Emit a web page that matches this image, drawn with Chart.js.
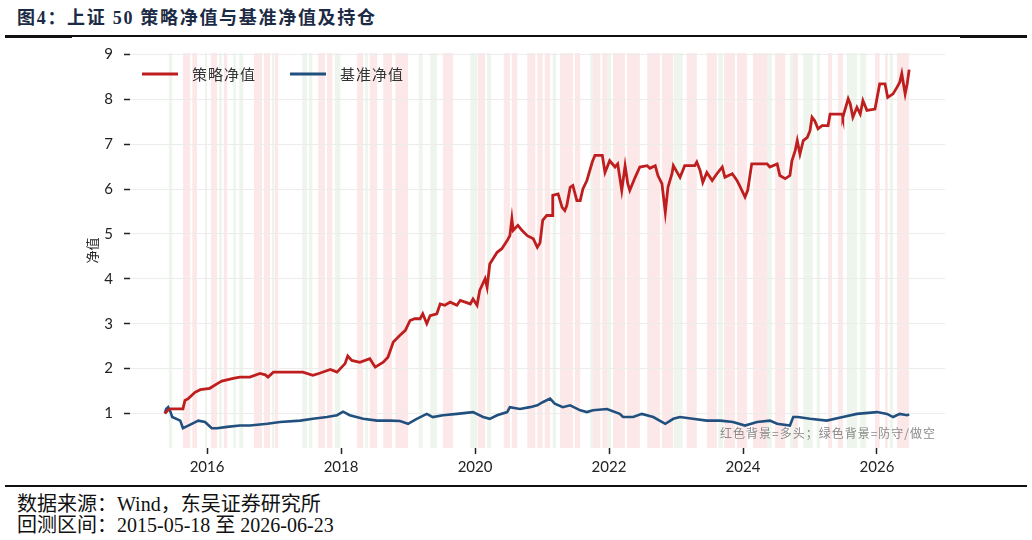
<!DOCTYPE html>
<html>
<head>
<meta charset="utf-8">
<script src="https://cdn.jsdelivr.net/npm/chart.js@4"></script>
<style>
  body { margin: 0; width: 1032px; height: 540px; background: #fff; position: relative; overflow: hidden; }
  .title { position: absolute; left: 17px; top: 3px; font: bold 18px "Liberation Serif", "Noto Sans CJK SC"; color: #1c2b45; letter-spacing: 1.7px; }
  .rule { position: absolute; background: #111; }
  .foot { position: absolute; left: 17px; font: 20px "Liberation Serif", "Noto Sans CJK SC"; color: #111; }
  #wrap { position: absolute; left: 0; top: 33px; width: 1032px; height: 452px; }
</style>
</head>
<body>
<div class="title">图4：上证 50 策略净值与基准净值及持仓</div>
<div class="rule" style="left:5px;top:35px;width:1022px;height:1.5px"></div>
<div class="rule" style="left:5px;top:35px;width:67px;height:3px"></div>
<div class="rule" style="left:960px;top:35px;width:67px;height:3px"></div>
<div id="wrap"><canvas id="chartNav" width="1032" height="452"></canvas></div>
<div class="rule" style="left:5px;top:485px;width:1022px;height:2px"></div>
<div class="foot" style="top:488px">数据来源：Wind，东吴证券研究所</div>
<div class="foot" style="top:509px">回测区间：2015-05-18 至 2026-06-23</div>
<script>
// 策略净值 (x = 年份小数)
var stratX = [2015.37, 2015.42, 2015.46, 2015.64, 2015.67, 2015.72, 2015.82, 2015.90, 2016.04, 2016.16,
  2016.22, 2016.39, 2016.49, 2016.64, 2016.79, 2016.87, 2016.91, 2016.99, 2017.19, 2017.43,
  2017.58, 2017.69, 2017.84, 2017.94, 2018.06, 2018.10, 2018.16, 2018.28, 2018.43, 2018.51,
  2018.63, 2018.70, 2018.78, 2018.88, 2018.96, 2019.03, 2019.10, 2019.18, 2019.22, 2019.28,
  2019.33, 2019.43, 2019.48, 2019.55, 2019.63, 2019.73, 2019.78, 2019.93, 2019.97, 2020.03,
  2020.07, 2020.15, 2020.18, 2020.22, 2020.33, 2020.40, 2020.48, 2020.52, 2020.55, 2020.57,
  2020.64, 2020.70, 2020.78, 2020.87, 2020.93, 2020.97, 2021.01, 2021.07, 2021.15, 2021.16,
  2021.24, 2021.30, 2021.34, 2021.37, 2021.42, 2021.46, 2021.52, 2021.57, 2021.61, 2021.67,
  2021.75, 2021.79, 2021.90, 2021.94, 2022.01, 2022.09, 2022.13, 2022.19, 2022.24, 2022.28,
  2022.31, 2022.39, 2022.46, 2022.57, 2022.61, 2022.69, 2022.73, 2022.79, 2022.84, 2022.88,
  2022.94, 2022.96, 2023.06, 2023.13, 2023.28, 2023.31, 2023.36, 2023.40, 2023.46, 2023.54,
  2023.61, 2023.69, 2023.73, 2023.84, 2023.91, 2023.96, 2024.03, 2024.07, 2024.13, 2024.36,
  2024.40, 2024.51, 2024.55, 2024.63, 2024.70, 2024.73, 2024.78, 2024.81, 2024.85, 2024.90,
  2024.96, 2025.00, 2025.03, 2025.07, 2025.12, 2025.18, 2025.27, 2025.30, 2025.48, 2025.49,
  2025.57, 2025.60, 2025.64, 2025.70, 2025.75, 2025.79, 2025.85, 2025.97, 2026.04, 2026.12,
  2026.16, 2026.24, 2026.30, 2026.34, 2026.37, 2026.42, 2026.45, 2026.48];
var stratY = [1.00, 1.08, 1.10, 1.10, 1.29, 1.33, 1.47, 1.53, 1.56, 1.67,
  1.72, 1.78, 1.81, 1.81, 1.89, 1.86, 1.81, 1.92, 1.92, 1.92,
  1.85, 1.90, 1.98, 1.92, 2.11, 2.28, 2.18, 2.14, 2.22, 2.03,
  2.14, 2.25, 2.59, 2.74, 2.85, 3.07, 3.11, 3.11, 3.22, 3.00,
  3.18, 3.22, 3.44, 3.41, 3.48, 3.41, 3.52, 3.44, 3.55, 3.41,
  3.74, 4.00, 3.81, 4.33, 4.59, 4.67, 4.85, 4.96, 5.34, 5.08,
  5.19, 5.08, 4.96, 4.89, 4.70, 4.80, 5.30, 5.41, 5.41, 5.86,
  5.89, 5.59, 5.52, 5.63, 6.04, 6.08, 5.74, 5.74, 6.00, 6.19,
  6.60, 6.75, 6.75, 6.37, 6.63, 6.49, 6.56, 5.97, 6.52, 6.12,
  5.97, 6.26, 6.49, 6.52, 6.46, 6.52, 6.30, 6.12, 5.48, 6.04,
  6.34, 6.52, 6.26, 6.52, 6.52, 6.60, 6.41, 6.15, 6.37, 6.19,
  6.34, 6.49, 6.26, 6.34, 6.19, 6.04, 5.82, 5.97, 6.56, 6.56,
  6.49, 6.56, 6.30, 6.23, 6.30, 6.63, 6.86, 7.08, 6.78, 7.08,
  7.15, 7.30, 7.60, 7.52, 7.34, 7.41, 7.41, 7.67, 7.67, 7.60,
  8.01, 7.90, 7.60, 7.82, 7.67, 7.97, 7.75, 7.78, 8.34, 8.34,
  8.04, 8.12, 8.27, 8.38, 8.57, 8.12, 8.34, 8.66];

// 基准净值
var benchX = [2015.37, 2015.39, 2015.42, 2015.45, 2015.48, 2015.60, 2015.64, 2015.72, 2015.87, 2015.97,
  2016.07, 2016.15, 2016.30, 2016.49, 2016.64, 2016.90, 2017.09, 2017.39, 2017.58, 2017.79,
  2017.94, 2018.03, 2018.13, 2018.33, 2018.54, 2018.73, 2018.88, 2019.00, 2019.13, 2019.28,
  2019.37, 2019.52, 2019.73, 2019.97, 2020.12, 2020.22, 2020.33, 2020.48, 2020.52, 2020.67,
  2020.82, 2020.93, 2021.01, 2021.12, 2021.19, 2021.31, 2021.42, 2021.57, 2021.67, 2021.76,
  2021.97, 2022.16, 2022.21, 2022.36, 2022.49, 2022.66, 2022.84, 2022.96, 2023.06, 2023.25,
  2023.46, 2023.66, 2023.85, 2024.03, 2024.21, 2024.40, 2024.51, 2024.70, 2024.75, 2024.82,
  2025.00, 2025.25, 2025.49, 2025.70, 2026.00, 2026.15, 2026.24, 2026.34, 2026.45, 2026.48];
var benchY = [1.00, 1.10, 1.14, 1.05, 0.92, 0.84, 0.67, 0.73, 0.84, 0.81,
  0.67, 0.67, 0.70, 0.73, 0.73, 0.77, 0.81, 0.84, 0.88, 0.92,
  0.96, 1.04, 0.96, 0.88, 0.84, 0.84, 0.83, 0.77, 0.88, 0.99,
  0.92, 0.96, 0.99, 1.03, 0.92, 0.88, 0.96, 1.03, 1.14, 1.10,
  1.14, 1.18, 1.25, 1.33, 1.22, 1.14, 1.18, 1.07, 1.03, 1.07,
  1.10, 0.99, 0.92, 0.92, 0.99, 0.92, 0.77, 0.88, 0.92, 0.88,
  0.84, 0.84, 0.81, 0.73, 0.81, 0.84, 0.77, 0.73, 0.92, 0.92,
  0.88, 0.84, 0.92, 0.99, 1.03, 0.99, 0.92, 0.99, 0.96, 0.98];

// 持仓区间：红色=多头，绿色=防守/做空
var longSpans = [[2015.64, 2015.75], [2015.78, 2015.85], [2016.06, 2016.15], [2016.25, 2016.30], [2016.70, 2016.82],
  [2016.85, 2016.94], [2017.01, 2017.06], [2017.66, 2017.76], [2017.79, 2017.87], [2018.24, 2018.33],
  [2018.43, 2018.54], [2018.63, 2018.76], [2018.81, 2019.00], [2019.52, 2019.67], [2020.04, 2020.15],
  [2020.43, 2020.52], [2020.55, 2020.63], [2020.78, 2020.90], [2020.93, 2021.01], [2021.04, 2021.12],
  [2021.27, 2021.46], [2021.49, 2021.57], [2021.76, 2021.87], [2021.90, 2021.97], [2022.06, 2022.24],
  [2022.27, 2022.46], [2022.57, 2022.76], [2022.79, 2022.96], [2023.16, 2023.31], [2023.46, 2023.61],
  [2023.72, 2023.88], [2023.91, 2024.06], [2024.15, 2024.36], [2024.48, 2024.63], [2024.75, 2024.82],
  [2025.27, 2025.33], [2025.42, 2025.49], [2025.97, 2026.04], [2026.12, 2026.16], [2026.30, 2026.48]];
var defenseSpans = [[2015.43, 2015.48], [2015.97, 2016.00], [2016.18, 2016.22], [2016.39, 2016.43], [2016.48, 2016.54],
  [2016.97, 2017.00], [2017.42, 2017.49], [2017.52, 2017.57], [2017.91, 2017.99], [2018.36, 2018.40],
  [2019.16, 2019.22], [2019.33, 2019.43], [2019.93, 2020.03], [2020.18, 2020.24], [2021.16, 2021.21],
  [2021.72, 2021.76], [2021.97, 2022.03], [2022.97, 2023.10], [2023.63, 2023.70], [2024.36, 2024.43],
  [2024.70, 2024.75], [2024.90, 2025.04], [2025.10, 2025.15], [2025.55, 2025.70], [2025.75, 2025.84],
  [2026.19, 2026.24]];

var xTicks = [2016, 2018, 2020, 2022, 2024, 2026];
var yTicks = [1, 2, 3, 4, 5, 6, 7, 8, 9];

function pts(xs, ys) {
    return xs.map(function (x, i) { return { x: x, y: ys[i] }; });
}

// 背景持仓色带
var stripes = {
    id: 'stripes',
    beforeDraw: function (chart) {
        var ctx = chart.ctx, a = chart.chartArea, xs = chart.scales.x;
        ctx.save();
        function band(list, color) {
            ctx.fillStyle = color;
            list.forEach(function (s) {
                var x0 = xs.getPixelForValue(s[0]), x1 = xs.getPixelForValue(s[1]);
                ctx.fillRect(x0, a.top, x1 - x0, a.bottom - a.top);
            });
        }
        band(longSpans, 'rgba(235, 90, 90, 0.14)');
        band(defenseSpans, 'rgba(110, 175, 110, 0.12)');
        ctx.restore();
    }
};

// 图内图例 + 注释
var innerLegend = {
    id: 'innerLegend',
    afterDraw: function (chart) {
        var ctx = chart.ctx, a = chart.chartArea;
        ctx.save();
        var pos = [142, 290];
        chart.data.datasets.forEach(function (ds, i) {
            var x = pos[i], y = a.top + 21;
            ctx.strokeStyle = ds.borderColor;
            ctx.lineWidth = 3;
            ctx.beginPath();
            ctx.moveTo(x, y);
            ctx.lineTo(x + 36, y);
            ctx.stroke();
            ctx.fillStyle = '#333';
            ctx.font = '15px "Noto Sans CJK SC"';
            ctx.letterSpacing = '1px';
            ctx.textBaseline = 'middle';
            ctx.fillText(ds.label, x + 50, y);
        });
        ctx.font = '12px "Noto Sans CJK SC"';
        ctx.letterSpacing = '1px';
        ctx.fillStyle = '#8a8a8a';
        ctx.textAlign = 'right';
        ctx.textBaseline = 'middle';
        ctx.fillText('红色背景=多头；绿色背景=防守/做空', a.right - 9, a.bottom - 15);
        ctx.restore();
    }
};

var graficoNav = document.getElementById('chartNav').getContext('2d');
var chart = new Chart(graficoNav, {
    type: 'line',
    data: {
        datasets: [
            {
                label: '策略净值',
                data: pts(stratX, stratY),
                borderColor: '#be1e1e',
                borderWidth: 2.8,
                pointRadius: 0,
                tension: 0
            },
            {
                label: '基准净值',
                data: pts(benchX, benchY),
                borderColor: '#21507f',
                borderWidth: 2.6,
                pointRadius: 0,
                tension: 0
            }
        ]
    },
    options: {
        responsive: false,
        devicePixelRatio: 1,
        animation: false,
        layout: { padding: { left: 80, top: 0, right: 87, bottom: 0 } },
        plugins: { legend: { display: false }, tooltip: { enabled: false } },
        scales: {
            x: {
                type: 'linear',
                min: 2014.85,
                max: 2027.015,
                afterFit: function (s) { s.height = 37; },
                afterBuildTicks: function (s) { s.ticks = xTicks.map(function (v) { return { value: v }; }); },
                grid: { drawOnChartArea: false, tickLength: 6, tickColor: '#222', tickWidth: 1.5 },
                border: { display: false },
                ticks: {
                    padding: 4,
                    color: '#222',
                    font: { family: 'Lato', size: 15 },
                    callback: function (v) { return String(v); }
                }
            },
            y: {
                min: 0.23,
                max: 9.03,
                afterFit: function (s) { s.width = 50; },
                afterBuildTicks: function (s) { s.ticks = yTicks.map(function (v) { return { value: v }; }); },
                grid: { color: '#ececec', lineWidth: 1, tickLength: 6, tickColor: '#222', tickWidth: 1.5 },
                border: { display: false },
                title: { display: true, text: '净值', color: '#222', font: { family: 'Noto Sans CJK SC', size: 13 }, padding: 4 },
                ticks: {
                    padding: 11,
                    color: '#222',
                    font: { family: 'Lato', size: 15 }
                }
            }
        }
    },
    plugins: [stripes, innerLegend]
});
</script>
</body>
</html>
